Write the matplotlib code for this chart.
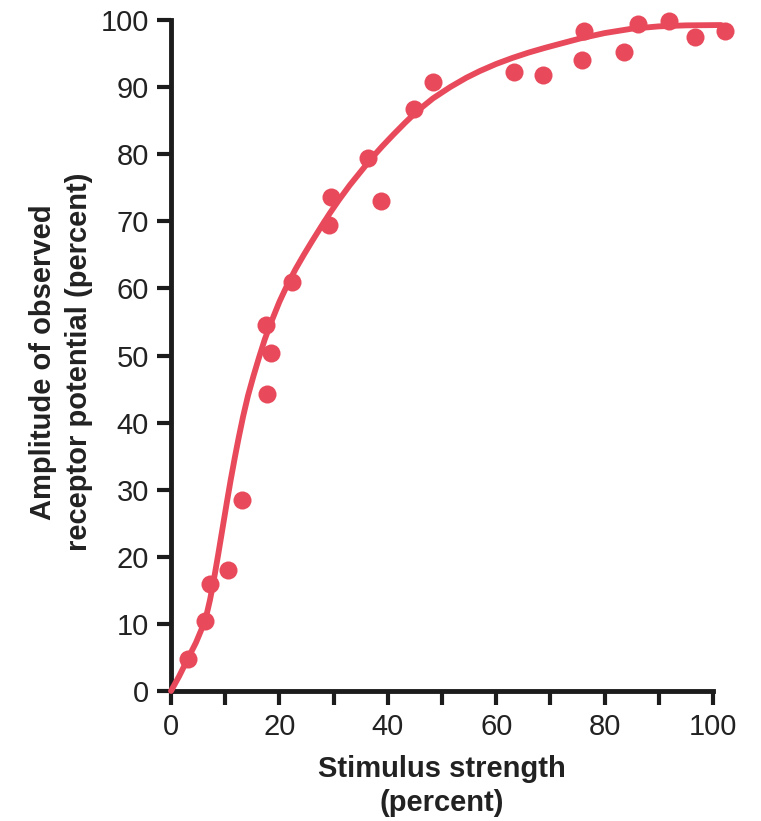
import numpy as np
import matplotlib.pyplot as plt
from matplotlib.ticker import MultipleLocator

# measured points (stimulus %, amplitude %)
stim = [3.1, 6.3, 7.2, 10.5, 13.1, 17.7, 17.5, 18.5, 22.3, 29.2, 29.5, 38.7,
        36.3, 44.8, 48.3, 63.3, 68.6, 75.8, 76.2, 83.6, 86.2, 91.9, 96.7, 102.2]
amp = [4.7, 10.4, 16.0, 18.1, 28.5, 44.2, 54.5, 50.4, 60.9, 69.4, 73.6, 73.0,
       79.5, 86.8, 90.8, 92.3, 91.8, 94.1, 98.4, 95.3, 99.4, 99.8, 97.4, 98.4]

# fitted curve
curve_x = [0, 1.5, 3.1, 4.6, 6.0, 6.6, 7.2, 7.8, 8.7, 9.5, 10.3, 11.0, 11.8,
           12.5, 13.3, 14.2, 15.2, 16.2, 17.3, 18.5, 20.0, 21.5, 23.0, 24.5,
           26.0, 27.7, 29.3, 31.0, 33.0, 35.0, 37.0, 39.0, 41.0, 43.2, 45.4,
           48.3, 51.5, 54.5, 57.0, 60.0, 63.0, 66.0, 69.0, 72.0, 75.5, 80.0,
           85.0, 90.0, 95.0, 101.5]
curve_y = [0, 2.2, 4.8, 7.2, 9.9, 11.5, 13.6, 16.1, 20.3, 24.2, 28.1, 31.4, 34.9,
           37.8, 40.9, 44.0, 46.9, 49.6, 52.4, 55.0, 58.0, 60.6, 62.9, 65.0,
           67.0, 69.2, 71.2, 73.2, 75.4, 77.4, 79.4, 81.2, 82.9, 84.7, 86.4,
           88.3, 90.0, 91.4, 92.4, 93.45, 94.35, 95.15, 95.85, 96.5, 97.25, 98.05,
           98.7, 99.05, 99.2, 99.25]

red = '#e84a5c'
ink = '#1c1c1c'

plt.rcParams['font.family'] = ['Liberation Sans', 'DejaVu Sans']

fig = plt.figure(figsize=(7.61, 8.21), dpi=100)
ax = fig.add_axes([171 / 761, 1 - 691 / 821, (713 - 171) / 761, (691 - 20) / 821])

ax.plot(curve_x, curve_y, color=red, lw=4.2, clip_on=False, zorder=3,
        solid_capstyle='round', solid_joinstyle='round')
ax.plot(stim, amp, 'o', color=red, ms=13, mec='none', clip_on=False, zorder=4)

ax.set_xlim(0, 100)
ax.set_ylim(0, 100)
ax.spines[['top', 'right']].set_visible(False)
for s in ['left', 'bottom']:
    ax.spines[s].set_linewidth(3.5)
    ax.spines[s].set_color(ink)
    ax.spines[s].set_capstyle('projecting')

ax.xaxis.set_major_locator(MultipleLocator(20))
ax.xaxis.set_minor_locator(MultipleLocator(10))
ax.yaxis.set_major_locator(MultipleLocator(10))
ax.tick_params(which='both', direction='out', length=10, width=3, color=ink,
               labelsize=21, labelcolor='#222222', pad=6)

ax.set_xlabel('Stimulus strength\n(percent)', fontsize=21, fontweight='bold',
              color='#222222', labelpad=10, linespacing=1.25)
fig.text(0.080, 1 - 362 / 821, 'Amplitude of observed\nreceptor potential (percent)',
         rotation=90, ha='center', va='center', fontsize=21, fontweight='bold',
         color='#222222', multialignment='center', linespacing=1.35)

fig.savefig('out.png', dpi=100)
